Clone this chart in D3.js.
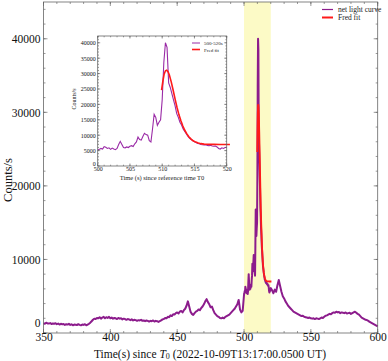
<!DOCTYPE html>
<html><head><meta charset="utf-8">
<script src="https://cdn.jsdelivr.net/npm/d3@7"></script>
<style>body{margin:0;background:#fff}svg{display:block}text{font-family:"Liberation Serif","Times New Roman",serif}</style>
</head><body><svg id="c" width="388" height="361"></svg>
<script>
// main light curve, 1 s bins from 350 to 499
const preStart = 350;
const preValues = [1350,1250,1400,1300,1280,1350,1220,1300,1250,1320,
 1200,1280,1150,1250,1180,1220,1100,1200,1150,1250,
 1100,1180,1050,1150,1120,1080,1200,1100,1050,1150,
 1100,1200,1050,1150,1250,1400,1600,1800,1950,1900,2050,
 2000,2150,1950,2100,2200,2000,2150,2050,2200,2000,
 2100,1950,2050,2000,1900,2050,1950,2000,1850,1950,1900,1800,1900,1850,
 1750,1850,1700,1800,1750,1650,1750,1700,1800,1650,1700,1600,1700,1650,1550,1650,1600,1700,1550,1650,1600,1500,1600,
 1700,1850,1900,2050,2000,2200,2150,2400,2300,2550,2500,2700,
 2800,2650,2900,3000,2800,3100,3300,3700,4300,
 3600,2900,2600,2450,2700,2900,3000,3200,
 3100,3400,3600,3900,4300,4600,
 4200,3900,3500,3600,
 3100,2700,2500,2300,2200,2050,2000,2100,2000,
 2200,2300,2400,2500,2700,2900,3100,3300,3600,3900,4500,3200,2800,3000];
// burst window 500-520 s, 0.25 s bins
const burstStart = 500, burstStep = 0.25;
const burstValues = [5200,5400,5700,5500,6300,6100,5700,5900,5400,5800,5500,5300,5700,7000,8000,7000,
 6000,5900,6200,6000,6400,6600,6300,7200,7800,9400,8600,8400,9600,10600,10200,10000,
 8200,7800,12000,16800,15800,13200,14200,15000,21500,33500,40000,38500,27000,25500,23500,21500,
 19500,17000,15800,14200,13300,12000,11200,10400,9600,9000,8600,8200,7900,7600,7300,7200,
 7000,6900,6800,6900,6700,6600,6700,6500,6400,6500,6200,5700,5500,5900,5700,6000,6100];
// after burst, 1 s bins 521-600
const postStart = 521;
const postValues = [5800,5400,5900,5600,6500,7200,6400,5600,5000,4700,
 4300,4000,3700,3500,3300,3100,2900,2800,2700,2600,
 2500,2400,2300,2350,2200,2150,2100,2050,2100,2000,1950,2000,
 1900,2000,1950,1900,2000,2100,2050,2200,2350,2400,
 2500,2600,2550,2700,2800,2750,2900,2800,2850,2700,2800,2750,2700,
 2800,2650,2700,2750,2600,2700,2800,2900,2750,2600,2500,
 2300,2100,2000,1900,1800,1750,1650,1500,1400,1300,1200,1100,1000,900];
// FRED fit
const fitTimes = [509.9,510.1,510.3,510.5,510.7,510.9,511.1,511.4,511.7,512.0,512.3,512.6,512.9,513.2,513.5,513.8,514.1,514.4,514.8,515.2,515.6,516.0,516.5,517.0,517.5,518,519,520,520.5];
const fitValues = [24600,27500,29800,30900,31100,30600,29600,27300,24600,21700,19000,16600,14700,13000,11600,10500,9600,8900,8200,7750,7450,7250,7100,7050,7020,7010,7000,7000,7000];
const shadeRange = [500,520];
const mainXTicks = [350,400,450,500,550,600];
const mainYTicks = [0,10000,20000,30000,40000];
const insetXTicks = [500,505,510,515,520];
const insetYTicks = [0,5000,10000,15000,20000,25000,30000,35000,40000];

const curve = [];
preValues.forEach((v,i)=>curve.push([preStart+i,v]));
burstValues.forEach((v,i)=>curve.push([burstStart+i*burstStep,v]));
postValues.forEach((v,i)=>curve.push([postStart+i,v]));
const burst = burstValues.map((v,i)=>[burstStart+i*burstStep,v]);
const fit = fitTimes.map((t,i)=>[t,fitValues[i]]);

const svg = d3.select("#c");
const PURPLE = "#8c1c8c", RED = "#ff1a1a";

function frame(g, x, y, xt, xminor, yt, yminor, opts){
  const [x0,x1] = x.range(), [y0,y1] = y.range();
  const L = opts.major, l = opts.minor;
  const tg = g.append("g").attr("stroke","#555").attr("stroke-width",0.6);
  xminor.forEach(t=>{const px=x(t);
    tg.append("line").attr("x1",px).attr("x2",px).attr("y1",y0).attr("y2",y0-l);
    tg.append("line").attr("x1",px).attr("x2",px).attr("y1",y1).attr("y2",y1+l);});
  yminor.forEach(t=>{const py=y(t);
    tg.append("line").attr("x1",x0).attr("x2",x0+l).attr("y1",py).attr("y2",py);
    tg.append("line").attr("x1",x1).attr("x2",x1-l).attr("y1",py).attr("y2",py);});
  xt.forEach(t=>{const px=x(t);
    tg.append("line").attr("x1",px).attr("x2",px).attr("y1",y0).attr("y2",y0-L);
    tg.append("line").attr("x1",px).attr("x2",px).attr("y1",y1).attr("y2",y1+L);});
  yt.forEach(t=>{const py=y(t);
    tg.append("line").attr("x1",x0).attr("x2",x0+L).attr("y1",py).attr("y2",py);
    tg.append("line").attr("x1",x1).attr("x2",x1-L).attr("y1",py).attr("y2",py);});
  g.append("rect").attr("x",x0).attr("y",y1).attr("width",x1-x0).attr("height",y0-y1)
    .attr("fill","none").attr("stroke","#666").attr("stroke-width",0.8);
  const xa = d3.axisBottom(x).tickValues(xt).tickSize(0).tickPadding(opts.xpad).tickFormat(d3.format("d"));
  const ya = d3.axisLeft(y).tickValues(yt).tickSize(0).tickPadding(opts.ypad).tickFormat(d3.format("d"));
  const gx = g.append("g").attr("transform",`translate(0,${y0})`).call(xa);
  const gy = g.append("g").attr("transform",`translate(${x0},0)`).call(ya);
  [gx,gy].forEach(a=>{a.select(".domain").remove();
    a.selectAll("text").attr("font-family","Liberation Serif").attr("font-size",opts.fs).attr("fill","#111");});
  // lift the zero label so it sits just above the first x label
  gy.selectAll(".tick").filter(d=>d===0).select("text").attr("dy",opts.zeroDy);
  return {gx,gy};
}
function range(a,b,s){const r=[];for(let v=a;v<=b+1e-9;v+=s)r.push(+v.toFixed(6));return r;}

// ---------- main ----------
const x = d3.scaleLinear().domain([350,600]).range([43.5,377.7]);
const y = d3.scaleLinear().domain([0,45000]).range([333,2]);
const g = svg.append("g");
g.append("rect").attr("x",x(shadeRange[0])).attr("y",y(45000)).attr("width",x(shadeRange[1])-x(shadeRange[0]))
  .attr("height",y(0)-y(45000)).attr("fill","#fcfac6");
const line = d3.line().x(d=>x(d[0])).y(d=>y(d[1]));
g.append("path").datum(curve).attr("d",line).attr("fill","none").attr("stroke",PURPLE).attr("stroke-width",2).attr("stroke-linejoin","round");
g.append("path").datum(fit).attr("d",line).attr("fill","none").attr("stroke",RED).attr("stroke-width",1.8);
const ax = frame(g,x,y,mainXTicks,range(350,600,10),mainYTicks,range(0,44000,2000),{major:4,minor:2,xpad:0,ypad:2,fs:11.5,zeroDy:"-0.6em"});
ax.gy.selectAll(".tick text").attr("dx",-1);
svg.append("text").attr("transform","translate(12,180) rotate(-90)").attr("text-anchor","middle")
  .attr("font-size",12.5).attr("fill","#111").text("Counts/s");
const xt = svg.append("text").attr("x",210).attr("y",357.5).attr("text-anchor","middle").attr("font-size",11.5).attr("fill","#111");
xt.append("tspan").text("Time(s) since ");
xt.append("tspan").attr("font-style","italic").text("T");
xt.append("tspan").attr("font-size",8).attr("dy",1.5).text("0");
xt.append("tspan").attr("dy",-1.5).text(" (2022-10-09T13:17:00.0500 UT)");
// main legend
const lg = svg.append("g");
lg.append("line").attr("x1",322).attr("x2",333).attr("y1",9.5).attr("y2",9.5).attr("stroke",PURPLE).attr("stroke-width",1.2);
lg.append("text").attr("x",338).attr("y",12).attr("font-size",7.5).attr("fill","#222").text("net light curve");
lg.append("line").attr("x1",322).attr("x2",333).attr("y1",17.5).attr("y2",17.5).attr("stroke",RED).attr("stroke-width",2);
lg.append("text").attr("x",338).attr("y",20).attr("font-size",7.5).attr("fill","#222").text("Fred fit");

// ---------- inset ----------
const xi = d3.scaleLinear().domain([500,520]).range([97.7,226.7]);
const yi = d3.scaleLinear().domain([0,42200]).range([166,36]);
const gi = svg.append("g");
gi.append("rect").attr("x",60).attr("y",22).attr("width",178).attr("height",168).attr("fill","#fff");
const li = d3.line().x(d=>xi(d[0])).y(d=>yi(d[1]));
gi.append("path").datum(burst).attr("d",li).attr("fill","none").attr("stroke","#9a2aa6").attr("stroke-width",1.1);
gi.append("path").datum(fit).attr("d",li).attr("fill","none").attr("stroke",RED).attr("stroke-width",1.6);
frame(gi,xi,yi,insetXTicks,range(500,520,1),insetYTicks,range(0,42000,1000),{major:2.5,minor:1.3,xpad:1,ypad:2,fs:6,zeroDy:"-0.15em"});
gi.append("text").attr("x",162).attr("y",180).attr("text-anchor","middle").attr("font-size",6.5).attr("fill","#222").text("Time (s) since reference time T0");
gi.append("text").attr("transform","translate(76,99) rotate(-90)").attr("text-anchor","middle").attr("font-size",6).attr("fill","#222").text("Counts/s");
gi.append("line").attr("x1",192).attr("x2",200).attr("y1",43).attr("y2",43).attr("stroke","#9a2aa6").attr("stroke-width",1);
gi.append("text").attr("x",204).attr("y",45).attr("font-size",5).attr("fill","#222").text("500-520s");
gi.append("line").attr("x1",192).attr("x2",200).attr("y1",49.5).attr("y2",49.5).attr("stroke",RED).attr("stroke-width",1.6);
gi.append("text").attr("x",204).attr("y",51.5).attr("font-size",5).attr("fill","#222").text("Fred fit");
</script></body></html>
